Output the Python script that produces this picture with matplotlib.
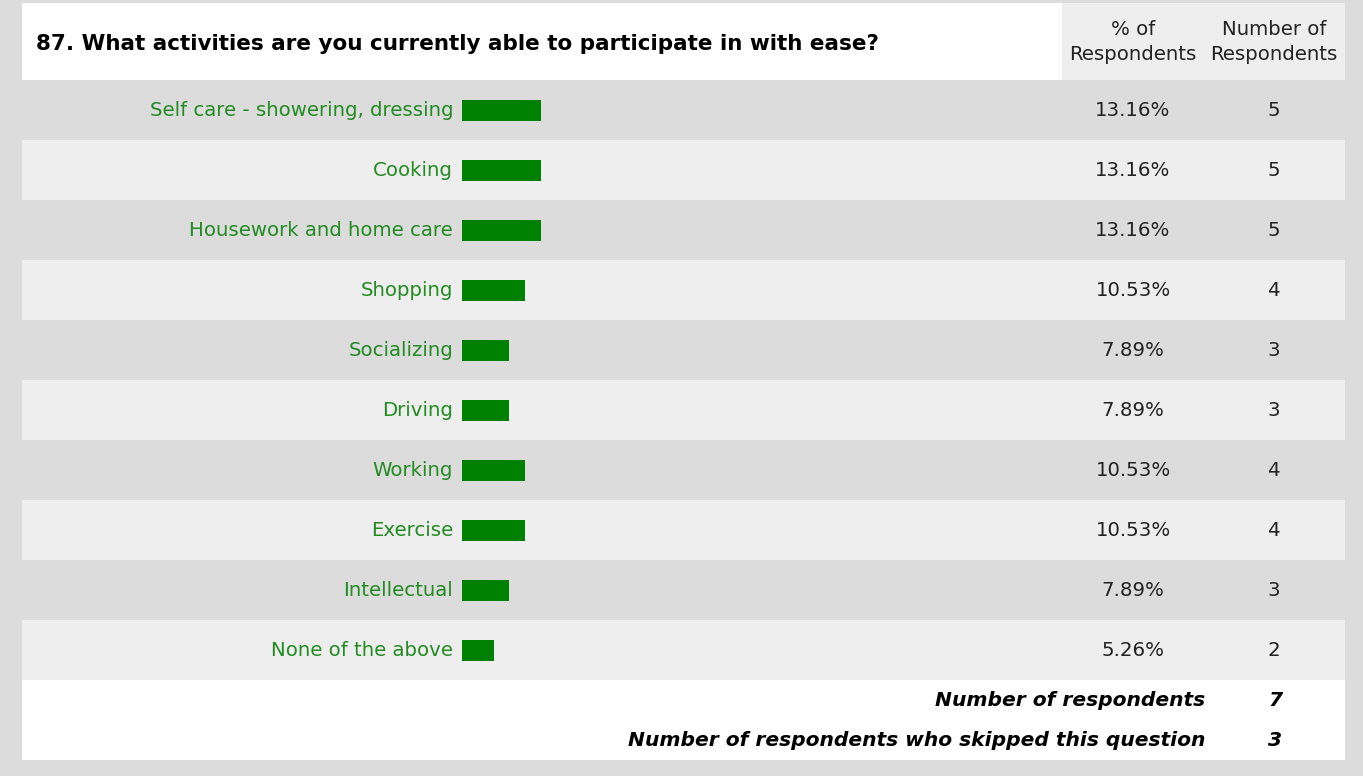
import matplotlib.pyplot as plt
from matplotlib.patches import Rectangle

question = "87. What activities are you currently able to participate in with ease?"
activities = [
    "Self care - showering, dressing",
    "Cooking",
    "Housework and home care",
    "Shopping",
    "Socializing",
    "Driving",
    "Working",
    "Exercise",
    "Intellectual",
    "None of the above",
]
percents = [13.16, 13.16, 13.16, 10.53, 7.89, 7.89, 10.53, 10.53, 7.89, 5.26]
counts = [5, 5, 5, 4, 3, 3, 4, 4, 3, 2]
total_respondents = 7
skipped = 3

W, H = 1363, 776
fig = plt.figure(figsize=(W / 100, H / 100), dpi=100)
fig.patch.set_facecolor("#dcdcdc")
ax = fig.add_axes([0, 0, 1, 1])
ax.set_xlim(0, W)
ax.set_ylim(H, 0)
ax.axis("off")

green = "#008000"
label_green = "#228b22"
row_top = 80
row_h = 60
px_per_pct = 6.0
bar_x0 = 462
fs = 14.2

# header
ax.add_patch(Rectangle((22, 3), 1040, 77, facecolor="white", lw=0))
ax.add_patch(Rectangle((1062, 3), 283, 77, facecolor="#eeeeee", lw=0))
ax.text(36, 44, question, fontsize=15.5, fontweight="bold", va="center", ha="left",
        family="DejaVu Sans")
ax.text(1133, 42, "% of\nRespondents", fontsize=fs, ha="center", va="center",
        linespacing=1.45, family="DejaVu Sans", color="#222222")
ax.text(1274, 42, "Number of\nRespondents", fontsize=fs, ha="center", va="center",
        linespacing=1.45, family="DejaVu Sans", color="#222222")

# rows
for i, (name, pct, n) in enumerate(zip(activities, percents, counts)):
    y0 = row_top + i * row_h
    yc = y0 + row_h / 2
    bg = "#dcdcdc" if i % 2 == 0 else "#eeeeee"
    ax.add_patch(Rectangle((22, y0), 1323, row_h, facecolor=bg, lw=0))
    ax.text(453, yc, name, fontsize=fs, color=label_green, ha="right", va="center",
            family="DejaVu Sans")
    ax.text(1133, yc, f"{pct:.2f}%", fontsize=fs, ha="center", va="center",
            family="DejaVu Sans", color="#222222")
    ax.text(1274, yc, str(n), fontsize=fs, ha="center", va="center",
            family="DejaVu Sans", color="#222222")

ys = [row_top + i * row_h + row_h / 2 for i in range(len(percents))]
ax.barh(ys, [p * px_per_pct for p in percents], left=bar_x0, height=21, color=green, lw=0)

# footer
ax.add_patch(Rectangle((22, 680), 1323, 80, facecolor="white", lw=0))
ffs = 14.6
ax.text(1205, 700, "Number of respondents", fontsize=ffs, fontweight="bold", style="italic",
        ha="right", va="center", family="DejaVu Sans")
ax.text(1275, 700, str(total_respondents), fontsize=ffs, fontweight="bold", style="italic",
        ha="center", va="center", family="DejaVu Sans")
ax.text(1205, 740, "Number of respondents who skipped this question", fontsize=ffs,
        fontweight="bold", style="italic", ha="right", va="center", family="DejaVu Sans")
ax.text(1275, 740, str(skipped), fontsize=ffs, fontweight="bold", style="italic",
        ha="center", va="center", family="DejaVu Sans")

fig.savefig("out.png", dpi=100, facecolor=fig.get_facecolor())
